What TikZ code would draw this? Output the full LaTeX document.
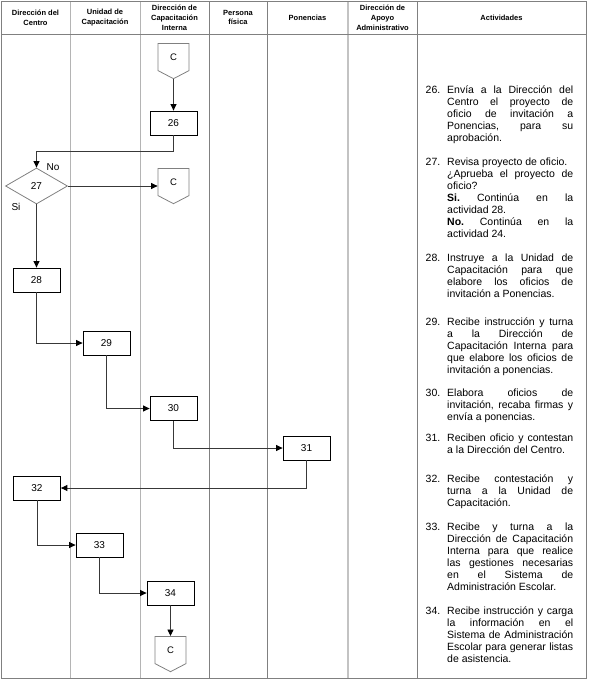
\documentclass[tikz,border=0pt]{standalone}
\usepackage{fontspec}
\setmainfont{Liberation Sans}
\usetikzlibrary{
  arrows.meta,
  shapes.geometric,
  shapes.symbols,
  chains,
  positioning,
  scopes
}
\definecolor{linea}{HTML}{808080}
\definecolor{lineaclara}{HTML}{B4B4B4}
\definecolor{flecha}{HTML}{383838}
\tolerance=10000
\hbadness=10000
\hyphenpenalty=10000
\exhyphenpenalty=10000
\setlength{\parindent}{0pt}
\frenchspacing

\begin{document}
\begin{tikzpicture}[
      x=1pt,y=-1pt,
      proceso/.style={
         rectangle,
         minimum width=47pt,
         minimum height=24pt,
         inner sep=0pt,
         draw=black,
         line width=0.8pt,
         font=\fontsize{10}{12}\selectfont
      },
      decision/.style={
         diamond,
         minimum width=62pt,
         minimum height=36pt,
         inner sep=0pt,
         draw=linea,
         line width=0.8pt,
         font=\fontsize{10}{12}\selectfont
      },
      conector/.style={
         signal,
         signal to=south,
         signal from=nowhere,
         signal pointer angle=125,
         minimum width=31pt,
         minimum height=29pt,
         inner sep=0pt,
         draw=linea,
         line width=0.8pt,
         anchor=north,
         font=\fontsize{9.5}{12}\selectfont
      },
      encabezado/.style={
         align=center,
         inner sep=0pt,
         font=\bfseries\fontsize{7.5}{9.8}\selectfont
      },
      actividad/.style={
         anchor=base west,
         text width=126pt,
         align=justify,
         inner sep=0pt,
         font=\fontsize{10.5}{12}\selectfont
      },
      numero/.style={
         anchor=base west,
         inner sep=0pt,
         font=\fontsize{10.5}{12}\selectfont
      },
      etiqueta/.style={inner sep=0pt,font=\fontsize{10}{12}\selectfont},
      skip loop/.style={
         to path={-- ++(0,#1) -| (\tikztotarget)}
      },
      vh path/.style={to path={|- (\tikztotarget)}},
      tip/.style={-{Triangle[length=6.5pt,width=6pt,color=black]}},
      every join/.style={draw=flecha,line width=0.9pt}
    ]
  \useasboundingbox (0,0) rectangle (590,683);
  % tabla
  \draw[lineaclara,line width=0.8pt] (70,1.5) -- (70,678);
  \draw[lineaclara,line width=0.8pt] (140,1.5) -- (140,678);
  \draw[linea,line width=0.8pt] (209,1.5) -- (209,678);
  \draw[linea,line width=0.8pt] (267,1.5) -- (267,678);
  \draw[lineaclara!80,line width=1.6pt] (348,1.5) -- (348,678);
  \draw[linea,line width=0.8pt] (417,1.5) -- (417,678);
  \draw[linea,line width=0.8pt] (1.5,34.5) -- (586.5,34.5);
  \draw[linea,line width=0.8pt] (1.5,1.5) rectangle (586.5,678);
  % encabezados
  \node (h1) [encabezado] at (35.5,17.5) {Dirección del\\Centro};
  \node (h2) [encabezado] at (105,17.5) {Unidad de\\Capacitación};
  \node (h3) [encabezado] at (174.5,17.5) {Dirección de\\Capacitación\\Interna};
  \node (h4) [encabezado] at (238,17.5) {Persona\\física};
  \node (h5) [encabezado] at (307.5,17.5) {Ponencias};
  \node (h6) [encabezado] at (382.5,17.5) {Dirección de\\Apoyo\\Administrativo};
  \node (h7) [encabezado] at (501.5,17.5) {Actividades};
  % diagrama
  \node (c1) [conector] at (173.5,43) {C};
  \node (n26) [proceso] at (173.5,123) {26};
  \node (n27) [decision] at (36.5,186) {27};
  \node (c2) [conector] at (173.5,168) {C};
  \node (n28) [proceso] at (36.5,280) {28};
  \node (n29) [proceso] at (106.5,343) {29};
  \node (n30) [proceso] at (173.5,408.5) {30};
  \node (n31) [proceso] at (306.5,448) {31};
  \node (n32) [proceso] at (37,488) {32};
  \node (n33) [proceso] at (99.5,545) {33};
  \node (n34) [proceso] at (170.5,593) {34};
  \node (c3) [conector] at (170.5,636) {C};
  \node (no) [etiqueta] at (53,167) {No};
  \node (si) [etiqueta] at (16,207) {Si};
  { [start chain]
       \chainin (c1);
       \chainin (n26)    [join=by tip];
  }
  { [start chain]
       \chainin (n26);
       \chainin (n27)    [join=by {skip loop=28,tip}];
  }
  \draw[flecha,line width=0.9pt,tip] (n27) -- (n27 -| c2.west);
  { [start chain]
       \chainin (n27);
       \chainin (n28)    [join=by tip];
  }
  { [start chain]
       \chainin (n28);
       \chainin (n29)    [join=by {vh path,tip}];
  }
  { [start chain]
       \chainin (n29);
       \chainin (n30)    [join=by {vh path,tip}];
  }
  { [start chain]
       \chainin (n30);
       \chainin (n31)    [join=by {vh path,tip}];
  }
  { [start chain]
       \chainin (n31);
       \chainin (n32)    [join=by {vh path,tip}];
  }
  { [start chain]
       \chainin (n32);
       \chainin (n33)    [join=by {vh path,tip}];
  }
  { [start chain]
       \chainin (n33);
       \chainin (n34)    [join=by {vh path,tip}];
  }
  { [start chain]
       \chainin (n34);
       \chainin (c3)    [join=by tip];
  }
  % actividades
  \node (a26) [numero] at (425.5,93.7) {26.};
  \node (t26) [actividad] at (447,93.7) {Envía a la Dirección del\linebreak
     Centro el proyecto de\linebreak oficio de invitación a\linebreak
     Ponencias, para su\linebreak aprobación.};
  \node (a27) [numero] at (425.5,165.7) {27.};
  \node (t27) [actividad] at (447,165.7) {Revisa proyecto de oficio.\par
     ¿Aprueba el proyecto de\linebreak oficio?\par
     \textbf{Si.} Continúa en la\linebreak actividad 28.\par
     \textbf{No.} Continúa en la\linebreak actividad 24.};
  \node (a28) [numero] at (425.5,261.7) {28.};
  \node (t28) [actividad] at (447,261.7) {Instruye a la Unidad de\linebreak
     Capacitación para que\linebreak elabore los oficios de\linebreak
     invitación a Ponencias.};
  \node (a29) [numero] at (425.5,325.2) {29.};
  \node (t29) [actividad] at (447,325.2) {Recibe instrucción y turna\linebreak
     a la Dirección de\linebreak Capacitación Interna para\linebreak
     que elabore los oficios de\linebreak invitación a ponencias.};
  \node (a30) [numero] at (425.5,396.7) {30.};
  \node (t30) [actividad] at (447,396.7) {Elabora oficios de\linebreak
     invitación, recaba firmas y\linebreak envía a ponencias.};
  \node (a31) [numero] at (425.5,441.2) {31.};
  \node (t31) [actividad] at (447,441.2) {Reciben oficio y contestan\linebreak
     a la Dirección del Centro.};
  \node (a32) [numero] at (425.5,482.7) {32.};
  \node (t32) [actividad] at (447,482.7) {Recibe contestación y\linebreak
     turna a la Unidad de\linebreak Capacitación.};
  \node (a33) [numero] at (425.5,530.7) {33.};
  \node (t33) [actividad] at (447,530.7) {Recibe y turna a la\linebreak
     Dirección de Capacitación\linebreak Interna para que realice\linebreak
     las gestiones necesarias\linebreak en el Sistema de\linebreak
     Administración Escolar.};
  \node (a34) [numero] at (425.5,614.7) {34.};
  \node (t34) [actividad] at (447,614.7) {Recibe instrucción y carga\linebreak
     la información en el\linebreak Sistema de Administración\linebreak
     Escolar para generar listas\linebreak de asistencia.};
\end{tikzpicture}
\end{document}
